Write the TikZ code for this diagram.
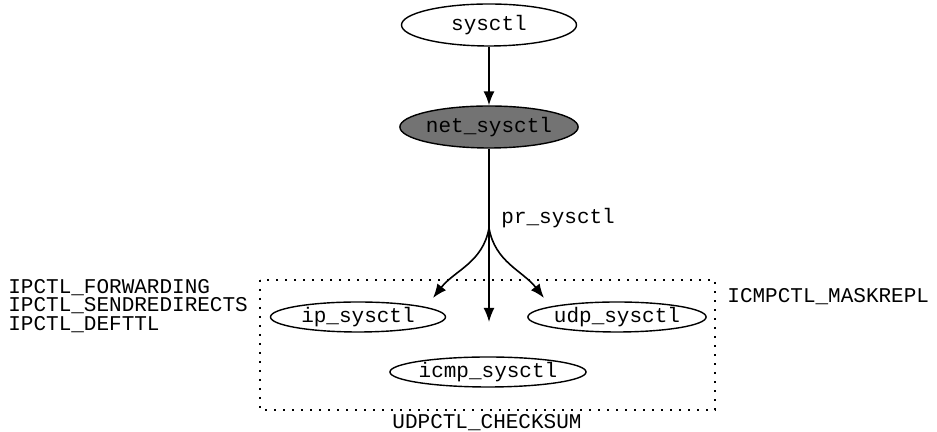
\documentclass[tikz,border=0pt]{standalone}
\usepackage{fontspec}
\setmonofont{Liberation Mono}
\usepackage{tikz}
\usetikzlibrary{shapes.geometric, arrows.meta, positioning}

\tikzset{
  func/.style={draw, ellipse, line width=0.7pt, inner sep=0pt,
    minimum width=87.5pt, minimum height=15pt,
    font=\ttfamily\fontsize{10.5}{8}\selectfont},
  topfunc/.style={func, minimum height=21pt},
  lbl/.style={font=\ttfamily\fontsize{10.5}{8}\selectfont, inner sep=0pt, align=left},
  call/.style={-{Latex[length=7pt,width=5.5pt]}, line width=0.8pt}
}

\begin{document}
\begin{tikzpicture}[x=0.5pt, y=0.5pt]
\useasboundingbox (0,0) rectangle (937,432);

% call tree
\node[topfunc] (sysctl) at (489,407) {sysctl};
\node[topfunc, fill=black!55] (net) at (489,305) {net\_sysctl};
\coordinate (branch) at (489,204);
\node[lbl, anchor=west] (pr) at (501,214) {pr\_sysctl};

\node[func] (ip) at (358,115) {ip\_sysctl};
\node[func] (udp) at (617,115) {udp\_sysctl};
\node[func] (icmp) at (488,60) {icmp\_sysctl};
\coordinate (midend) at (489,110);
\coordinate (ipend) at (433,134);
\coordinate (udpend) at (544,134);

\draw[call] (sysctl) -- (net);
\draw[line width=0.8pt] (net) -- (branch);
\draw[call] (branch) to[out=-100, in=52] (ipend);
\draw[call] (branch) -- (midend);
\draw[call] (branch) to[out=-80, in=128] (udpend);

% protocol group
\draw[line width=0.6pt, dash pattern=on 0.8pt off 3.7pt] (260,152) rectangle (715,22);

% sysctl names
\node[lbl, anchor=west] (ipnames) at (8,126)
  {IPCTL\_FORWARDING\\IPCTL\_SENDREDIRECTS\\IPCTL\_DEFTTL};
\node[lbl, anchor=west] (icmpname) at (727,135) {ICMPCTL\_MASKREPL};
\node[lbl] (udpname) at (487,9) {UDPCTL\_CHECKSUM};
\end{tikzpicture}
\end{document}
